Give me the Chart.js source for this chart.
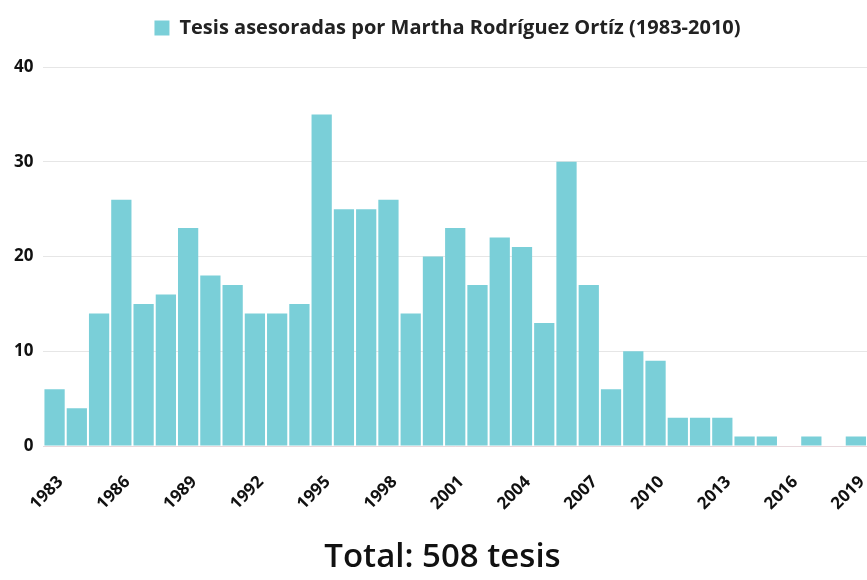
<!DOCTYPE html>
<html>
<head>
<meta charset="utf-8">
<script src="https://cdn.jsdelivr.net/npm/chart.js@4/dist/chart.umd.min.js"></script>
<style>
  html, body { margin: 0; padding: 0; background: #fff; }
  #wrap { width: 867px; height: 580px; position: relative; overflow: hidden; }
  #graf { position: absolute; left: 0; top: 0; width: 867px; height: 536px; }
  #total {
    position: absolute; left: 18px; width: 849px; top: 533px;
    text-align: center; font-family: "Open Sans", "Noto Sans", sans-serif;
    font-size: 33px; font-weight: 600; color: #111; line-height: 44px;
  }
</style>
</head>
<body>
<div id="wrap">
  <div id="graf"><canvas id="grafico"></canvas></div>
  <div id="total"></div>
</div>
<script>
// Años y número de tesis asesoradas
const anios = [];
for (let a = 1983; a <= 2019; a++) anios.push(String(a));
const tesis = [6, 4, 14, 26, 15, 16, 23, 18, 17, 14, 14, 15, 35, 25, 25, 26, 14, 20, 23, 17, 22, 21, 13, 30, 17, 6, 10, 9, 3, 3, 3, 1, 1, 0, 1, 0, 1];
const etiquetaSerie = 'Tesis asesoradas por Martha Rodríguez Ortíz (1983-2010)';
const tituloTotal = 'Total: 508 tesis';

document.getElementById('total').textContent = tituloTotal;

const fuente = '"Open Sans", "Noto Sans", sans-serif';

// espacio extra bajo la leyenda y leyenda un poco a la derecha
const ajusteLeyenda = {
    id: 'ajusteLeyenda',
    beforeInit(chart) {
        const fit = chart.legend.fit;
        chart.legend.fit = function() {
            fit.bind(chart.legend)();
            this.height += 19;
        };
    },
    afterLayout(chart) {
        chart.legend.left += 12;
        chart.legend.right += 12;
    }
};

new Chart(document.getElementById('grafico'), {
    type: 'bar',
    data: {
        labels: anios,
        datasets: [{
            label: etiquetaSerie,
            data: tesis,
            backgroundColor: '#7acfd8',
            barPercentage: 0.91,
            categoryPercentage: 1.0
        }]
    },
    options: {
        responsive: true,
        maintainAspectRatio: false,
        animation: false,
        layout: { padding: { left: 4, right: 0, top: 8, bottom: 4 } },
        plugins: {
            legend: {
                position: 'top',
                labels: {
                    boxWidth: 15,
                    boxHeight: 15,
                    color: '#222',
                    padding: 10,
                    font: { family: fuente, size: 20, weight: 'bold' }
                }
            },
            tooltip: { enabled: false }
        },
        scales: {
            x: {
                afterFit: function(scale) { scale.paddingRight = 0; },
                grid: { display: false },
                border: { color: '#e8d8dc' },
                ticks: {
                    autoSkip: false,
                    maxRotation: 45,
                    minRotation: 45,
                    padding: 18,
                    labelOffset: 6,
                    color: '#111',
                    font: { family: fuente, size: 17, weight: 'bold' },
                    callback: function(v, i) { return i % 3 === 0 ? this.getLabelForValue(v) : ''; }
                }
            },
            y: {
                min: 0,
                max: 40,
                grid: { color: '#e6e6e6', drawTicks: false },
                border: { display: false },
                ticks: {
                    stepSize: 10,
                    padding: 10,
                    color: '#111',
                    font: { family: fuente, size: 17, weight: 'bold' }
                }
            }
        }
    },
    plugins: [ajusteLeyenda]
});
</script>
</body>
</html>
